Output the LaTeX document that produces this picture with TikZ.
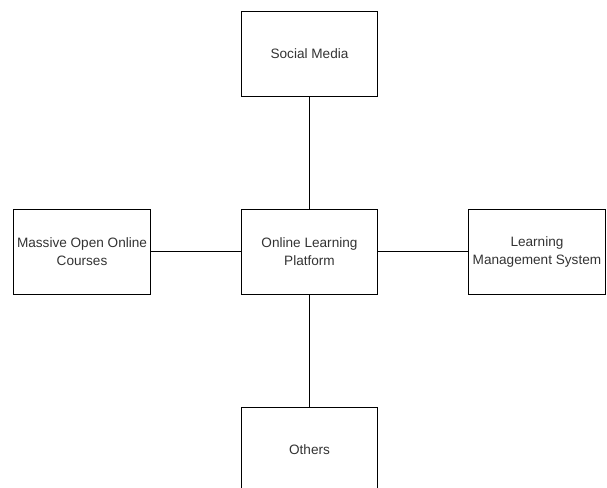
\documentclass[tikz,border=0pt]{standalone}
\usepackage{fontspec}
\setmainfont{Liberation Sans}
\usetikzlibrary{positioning}

\begin{document}
\begin{tikzpicture}[x=0.75pt,y=-0.75pt,auto,node distance=170.6pt,
  thick,line width=0.75pt,
  main node/.style={rectangle,draw,minimum width=102.5pt,minimum height=63.75pt,
    align=center,inner sep=1pt,text=black!80,font=\fontsize{10.2pt}{13.7pt}\selectfont}]

  \useasboundingbox (0,0) rectangle (607,488);

  \node[main node] (olp) at (309.5,252) {Online Learning\\Platform};
  \node[main node] (sm)  [above of=olp, node distance=148.5pt] {Social Media};
  \node[main node] (oth) [below of=olp, node distance=148.5pt] {Others};
  \node[main node] (mooc) [left  of=olp] {Massive Open Online\\Courses};
  \node[main node] (lms)  [right of=olp] {Learning\\Management System};

  \path
  	(olp) edge (sm)
  	(olp) edge (oth)
  	(olp) edge (mooc)
  	(olp) edge (lms);

\end{tikzpicture}
\end{document}
